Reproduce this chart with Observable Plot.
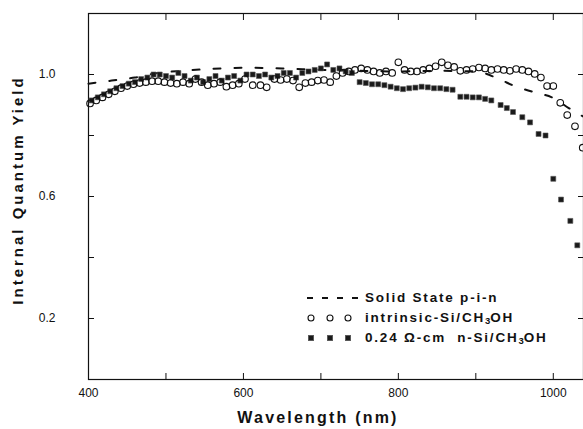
<!DOCTYPE html>
<html><head><meta charset="utf-8">
<script src="https://cdn.jsdelivr.net/npm/d3@7"></script>
<script src="https://cdn.jsdelivr.net/npm/@observablehq/plot@0.6"></script>
<style>
html,body{margin:0;padding:0;background:#fff;}
#wrap{position:relative;width:583px;height:429px;overflow:hidden;font-family:"Liberation Sans",Arial,sans-serif;}
#legend{position:absolute;left:302px;top:288px;font-size:13.5px;font-weight:bold;letter-spacing:1.8px;color:#111;line-height:20px;}
#legend .row{display:flex;align-items:center;height:20px;}
#legend svg{width:63px;height:20px;flex:none;}
#legend sub{font-size:9.5px;vertical-align:-2px;line-height:0;letter-spacing:0;}
#ylab{position:absolute;left:9px;top:190px;transform-origin:0 0;transform:rotate(-90deg) translate(-50%,0);font-weight:bold;font-size:15px;letter-spacing:3px;color:#111;white-space:nowrap;}
#xlab{position:absolute;left:318px;top:409px;transform:translateX(-50%);font-weight:bold;font-size:16px;letter-spacing:2.2px;color:#111;white-space:nowrap;}
</style></head>
<body><div id="wrap"></div>
<script>
// Wavelength (nm) and internal quantum yield
const pinWave = [400,430,460,490,520,550,600,650,700,750,800,850,900,930,950,975,1000,1020,1040];
const pinYield = [0.970,0.980,0.990,1.005,1.012,1.017,1.022,1.020,1.015,1.012,1.010,1.012,1.010,0.985,0.962,0.942,0.923,0.890,0.860];

const intrWave = [402,410,418,426,434,442,450,458,466,474,482,490,498,506,514,522,530,538,546,554,562,570,578,586,594,602,612,622,630,640,648,656,664,672,680,688,696,704,712,720,728,736,744,752,760,768,776,784,792,800,808,816,824,832,840,848,856,864,872,880,888,896,904,912,920,928,936,944,952,960,968,976,984,992,1000,1009,1018,1028,1038];
const intrYield = [0.905,0.915,0.925,0.935,0.945,0.955,0.962,0.968,0.972,0.975,0.978,0.978,0.975,0.972,0.970,0.975,0.970,0.985,0.975,0.965,0.970,0.975,0.960,0.965,0.970,0.985,0.965,0.965,0.958,0.985,0.982,0.985,0.980,0.958,0.972,0.975,0.980,0.982,0.975,0.995,1.005,1.010,1.015,1.020,1.015,1.010,1.005,1.010,1.005,1.040,1.015,1.010,1.010,1.015,1.020,1.027,1.040,1.030,1.025,1.012,1.015,1.018,1.023,1.020,1.015,1.018,1.015,1.012,1.018,1.015,1.010,1.002,0.990,0.962,0.962,0.907,0.867,0.830,0.760];

const nsiWave = [404,412,420,428,436,444,452,460,468,476,484,492,500,508,516,524,532,540,548,556,564,572,580,588,596,604,612,620,628,636,644,652,660,668,676,684,692,700,708,716,724,732,740,750,758,766,774,782,790,798,806,814,822,830,838,846,854,862,870,880,888,896,904,912,920,932,940,948,960,970,981,990,1000,1010,1022,1031];
const nsiYield = [0.915,0.925,0.935,0.945,0.955,0.962,0.970,0.975,0.985,0.990,1.000,1.000,0.995,0.990,1.005,0.995,0.980,0.990,0.975,0.985,0.995,0.980,0.990,0.995,0.980,1.000,1.000,0.995,1.000,0.990,0.995,1.005,1.005,0.990,1.005,1.010,1.015,1.020,1.033,1.015,1.020,1.010,1.005,0.975,0.972,0.968,0.968,0.965,0.960,0.955,0.952,0.955,0.957,0.960,0.958,0.955,0.955,0.952,0.950,0.927,0.927,0.925,0.925,0.920,0.915,0.900,0.890,0.877,0.860,0.843,0.805,0.800,0.658,0.590,0.520,0.440];

const xTicks = [400,500,600,700,800,900,1000];
const xTickLabels = [400,600,800,1000];
const yTicks = [0.2,0.4,0.6,0.8,1.0];
const yTickLabels = [0.2,0.6,1.0];

const pin = pinWave.map((w,i)=>({w, v:pinYield[i]}));
const intr = intrWave.map((w,i)=>({w, v:intrYield[i]}));
const nsi = nsiWave.map((w,i)=>({w, v:nsiYield[i]}));

const ink = "#111";
const chart = Plot.plot({
  width: 583, height: 429,
  marginLeft: 88, marginTop: 13, marginBottom: 50, marginRight: 0,
  style: {fontFamily: '"Liberation Sans", Arial, sans-serif', fontSize: "12px", color: ink, background: "#fff"},
  x: {domain: [400, 1039], axis: null},
  y: {domain: [0, 1.2], axis: null},
  marks: [
    Plot.frame({stroke: ink, strokeWidth: 1.2}),
    Plot.axisX(xTicks, {anchor: "bottom", tickSize: 6, dy: -6, tickFormat: () => "", label: null, stroke: ink}),
    Plot.text(xTickLabels, {x: d => d, frameAnchor: "bottom", lineAnchor: "middle", dy: 14, text: d3.format("d"), fill: ink, fontSize: 12, style: {letterSpacing: "1px"}}),
    Plot.axisX(xTicks, {anchor: "top", tickSize: 6, dy: 6, tickFormat: () => "", label: null, stroke: ink}),
    Plot.axisY(yTicks, {anchor: "left", tickSize: 6, dx: 6, tickFormat: () => "", label: null, stroke: ink}),
    Plot.text(yTickLabels, {y: d => d, frameAnchor: "left", dx: -33, textAnchor: "end", text: d3.format(".1f"), fill: ink, fontSize: 12, style: {letterSpacing: "1px"}}),
    Plot.axisY(yTicks, {anchor: "right", tickSize: 6, dx: -6, tickFormat: () => "", label: null, stroke: ink}),
    Plot.line(pin, {x: "w", y: "v", stroke: ink, strokeWidth: 2, strokeDasharray: "7,14", curve: "monotone-x"}),
    Plot.dot(nsi, {x: "w", y: "v", symbol: "square", r: 2.8, fill: "#1a1a1a", stroke: "#555", strokeWidth: 0.6}),
    Plot.dot(intr, {x: "w", y: "v", r: 3.3, stroke: ink, strokeWidth: 1.1, fill: "none"})
  ]
});

const wrap = document.getElementById("wrap");
wrap.appendChild(chart);

// axis titles
const yl = document.createElement("div"); yl.id = "ylab"; yl.textContent = "Internal Quantum Yield"; wrap.appendChild(yl);
const xl = document.createElement("div"); xl.id = "xlab"; xl.textContent = "Wavelength (nm)"; wrap.appendChild(xl);

// legend
const legendItems = [
  {kind: "dash", html: "Solid State p-i-n"},
  {kind: "circle", html: "intrinsic-Si/CH<sub>3</sub>OH"},
  {kind: "square", html: "0.24 &Omega;-cm&nbsp; n-Si/CH<sub>3</sub>OH"}
];
const lg = document.createElement("div"); lg.id = "legend"; wrap.appendChild(lg);
for (const it of legendItems) {
  const row = document.createElement("div"); row.className = "row";
  const s = d3.create("svg");
  if (it.kind === "dash") {
    s.append("line").attr("x1", 5).attr("x2", 57).attr("y1", 10).attr("y2", 10)
      .attr("stroke", ink).attr("stroke-width", 2).attr("stroke-dasharray", "6,9");
  } else {
    for (const cx of [9, 28, 46]) {
      if (it.kind === "circle") s.append("circle").attr("cx", cx).attr("cy", 10).attr("r", 3).attr("fill", "none").attr("stroke", ink).attr("stroke-width", 1.1);
      else s.append("rect").attr("x", cx - 2.7).attr("y", 7.3).attr("width", 5.4).attr("height", 5.4).attr("fill", "#1a1a1a").attr("stroke", "#555").attr("stroke-width", 0.6);
    }
  }
  row.appendChild(s.node());
  const t = document.createElement("span"); t.innerHTML = it.html; row.appendChild(t);
  lg.appendChild(row);
}
</script></body></html>
